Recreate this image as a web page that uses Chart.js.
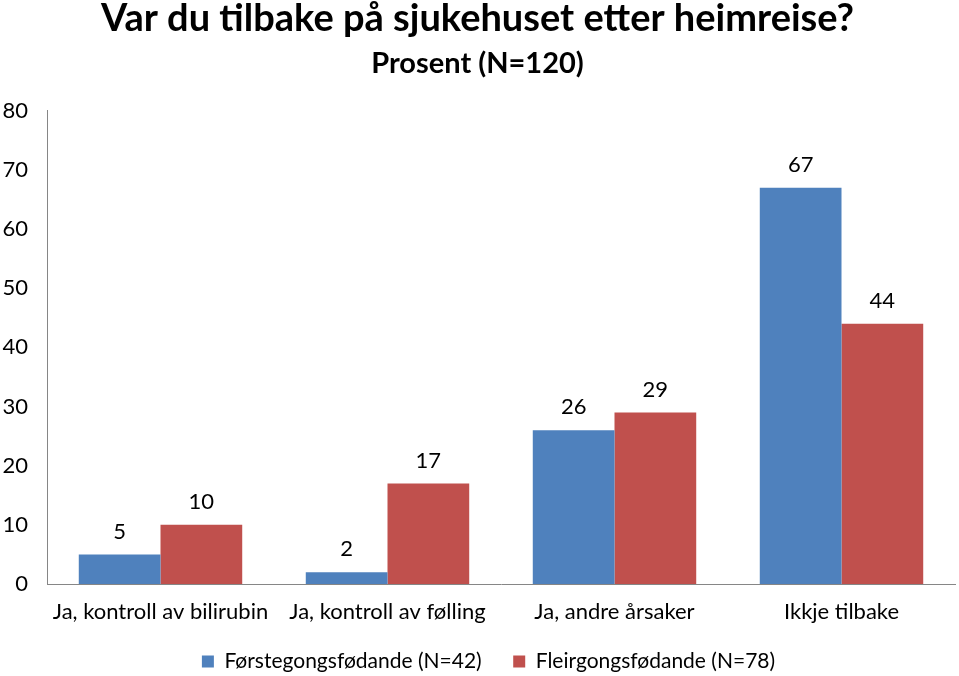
<!DOCTYPE html>
<html>
<head>
<meta charset="utf-8">
<script src="https://cdn.jsdelivr.net/npm/chart.js@4/dist/chart.umd.min.js"></script>
<style>
html,body{margin:0;padding:0;background:#fff;}
#wrap{width:959px;height:676px;}
</style>
</head>
<body>
<div id="wrap"><canvas id="c" width="959" height="676"></canvas></div>
<script>
const categories = ["Ja, kontroll av bilirubin", "Ja, kontroll av følling", "Ja, andre årsaker", "Ikkje tilbake"];
const seriesNames = ["Førstegongsfødande (N=42)", "Fleirgongsfødande (N=78)"];
const firstTime = [5, 2, 26, 67];
const multiple = [10, 17, 29, 44];
const yTicks = [0, 10, 20, 30, 40, 50, 60, 70, 80];
const titleText = "Var du tilbake på sjukehuset etter heimreise?";
const subtitleText = "Prosent (N=120)";

const FONT = "Lato, 'Open Sans', sans-serif";

const valueLabels = {
  id: 'valueLabels',
  afterDatasetsDraw(chart) {
    const ctx = chart.ctx;
    ctx.save();
    ctx.font = "22px " + FONT;
    ctx.fillStyle = "#000";
    ctx.textAlign = "center";
    ctx.textBaseline = "middle";
    chart.data.datasets.forEach((ds, di) => {
      const meta = chart.getDatasetMeta(di);
      meta.data.forEach((bar, i) => {
        ctx.fillText(String(ds.data[i]), bar.x, bar.y - 23);
      });
    });
    ctx.restore();
  }
};

const legendShift = {
  id: 'legendShift',
  afterLayout(chart) {
    if (chart.legend) { chart.legend.left += 22; }
  }
};

new Chart(document.getElementById('c'), {
  type: 'bar',
  data: {
    labels: categories,
    datasets: [
      { label: seriesNames[0], data: firstTime, backgroundColor: '#4F81BD', borderWidth: 0 },
      { label: seriesNames[1], data: multiple, backgroundColor: '#C0504D', borderWidth: 0 }
    ]
  },
  options: {
    responsive: false,
    animation: false,
    devicePixelRatio: 1,
    layout: { padding: { left: 0, right: 4, top: 0, bottom: -6 } },
    datasets: { bar: { categoryPercentage: 0.72, barPercentage: 1.0 } },
    plugins: {
      title: {
        display: true, text: titleText, color: '#000',
        font: { family: FONT, size: 38, weight: 'bold', lineHeight: 1.0 },
        padding: { top: 0, bottom: 0 }
      },
      subtitle: {
        display: true, text: subtitleText, color: '#000',
        font: { family: FONT, size: 29, weight: 'bold' },
        padding: { top: 8, bottom: 30 }
      },
      legend: {
        position: 'bottom',
        labels: {
          color: '#000', boxWidth: 12, boxHeight: 12, padding: 0,
          font: { family: FONT, size: 21 },
          generateLabels(chart) {
            const items = Chart.defaults.plugins.legend.labels.generateLabels(chart);
            items.forEach((it, i) => { if (i < items.length - 1) it.text = it.text + "\u2003\u2003"; });
            return items;
          }
        }
      },
      tooltip: { enabled: false }
    },
    scales: {
      x: {
        grid: { display: false, drawTicks: false },
        border: { display: true, color: '#868686', width: 1 },
        ticks: { color: '#000', font: { family: FONT, size: 22 }, padding: 15, maxRotation: 0, autoSkip: false },
        afterFit(scale) { scale.height = 67; }
      },
      y: {
        min: 0, max: 80,
        grid: { display: false, drawTicks: false },
        border: { display: true, color: '#868686', width: 1 },
        afterBuildTicks(scale) { scale.ticks = yTicks.map(v => ({ value: v })); },
        ticks: { color: '#000', font: { family: FONT, size: 22 }, padding: 19 },
        afterFit(scale) { scale.width = 47; }
      }
    }
  },
  plugins: [valueLabels, legendShift]
});
</script>
</body>
</html>
